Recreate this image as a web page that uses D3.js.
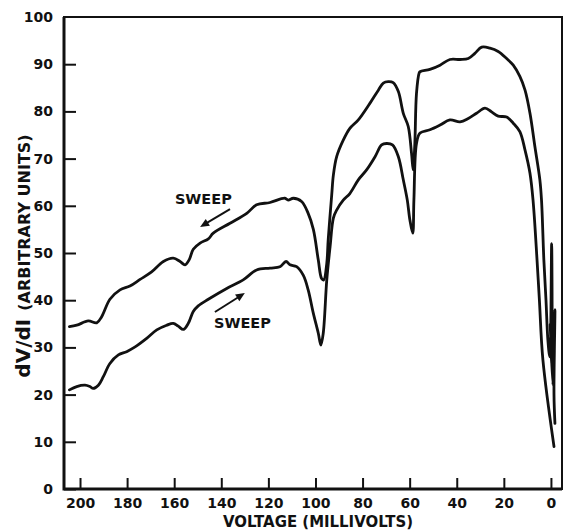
<!DOCTYPE html>
<html lang="en">
<head>
<meta charset="UTF-8">
<title>dV/dI vs voltage</title>
<script src="https://d3js.org/d3.v7.min.js"></script>
<style>
  body { margin: 0; background: #fff; }
  text { font-family: "DejaVu Sans", sans-serif; font-weight: bold; fill: #111; }
</style>
</head>
<body>
<script>
// voltage (mV) and dV/dI readings, upper trace (sweep down)
var upperV = [204.5, 201.4, 196.5, 192.9, 190.8, 187.3, 183.0, 178.8, 174.5, 169.6, 164.6, 160.4, 157.5, 155.4, 153.6, 151.9, 149.0, 145.5, 143.4, 136.3, 129.2, 125.0, 119.3, 113.0, 111.6, 109.4, 105.9, 103.1, 100.9, 98.8, 97.4, 96.5, 95.2, 94.6, 93.1, 92.4, 91.0, 88.2, 85.4, 81.8, 76.9, 73.3, 71.2, 69.1, 67.0, 64.8, 62.7, 60.6, 59.2, 58.5, 57.8, 57.1, 56.0, 55.6, 51.4, 47.1, 42.9, 38.6, 35.1, 32.3, 29.4, 25.9, 22.4, 18.8, 16.0, 13.2, 11.0, 8.9, 6.8, 4.7, 4.0, 3.0, 2.1, 1.3, 0.5, -0.3, -0.4, 0.3, -0.8, -1.7, -1.3, -1.7];
var upperY = [34.4, 34.7, 35.6, 35.2, 36.5, 40.2, 42.2, 43.0, 44.4, 46.0, 48.2, 48.9, 48.2, 47.5, 48.6, 50.8, 52.1, 53.0, 54.2, 56.3, 58.4, 60.2, 60.7, 61.6, 61.2, 61.6, 60.9, 58.4, 55.0, 48.5, 44.6, 44.3, 47.8, 52.8, 62.3, 66.5, 70.4, 73.9, 76.4, 78.2, 81.7, 84.5, 86.0, 86.3, 86.1, 84.2, 79.6, 76.8, 71.1, 67.6, 73.2, 83.8, 88.1, 88.4, 88.9, 89.8, 91.0, 91.0, 91.2, 92.3, 93.6, 93.4, 92.7, 91.2, 89.8, 87.4, 84.5, 79.6, 72.5, 65.5, 61.2, 48.5, 40.0, 31.6, 28.0, 52.0, 26.0, 35.0, 22.0, 38.0, 20.0, 13.9];

// lower trace (sweep up)
var lowerV = [204.5, 201.4, 197.9, 195.8, 194.4, 192.2, 190.1, 187.3, 183.7, 180.2, 176.6, 171.7, 167.4, 163.2, 160.4, 158.3, 156.1, 154.0, 151.9, 149.8, 145.5, 137.7, 130.7, 125.0, 119.3, 115.1, 112.5, 110.8, 108.0, 105.2, 103.1, 100.9, 98.8, 97.7, 96.7, 95.2, 93.8, 92.4, 91.0, 88.2, 85.4, 81.8, 78.3, 74.7, 71.9, 69.8, 67.3, 64.8, 62.7, 61.0, 59.9, 58.7, 58.2, 57.1, 55.6, 51.4, 47.1, 42.9, 38.6, 35.1, 31.6, 28.0, 25.2, 22.4, 18.8, 16.0, 13.2, 11.0, 8.9, 7.6, 5.9, 4.9, 3.4, -1.3];
var lowerY = [21.0, 21.7, 22.0, 21.7, 21.3, 22.0, 23.8, 26.6, 28.4, 29.1, 30.1, 31.9, 33.7, 34.7, 35.1, 34.5, 33.8, 35.1, 37.6, 38.8, 40.2, 42.5, 44.3, 46.4, 46.8, 47.1, 48.2, 47.5, 47.1, 45.3, 42.2, 37.2, 33.0, 30.5, 33.0, 44.3, 51.3, 57.4, 59.1, 61.2, 62.6, 65.5, 67.6, 70.4, 72.9, 73.2, 72.9, 70.4, 65.5, 61.2, 57.0, 54.2, 61.2, 73.2, 75.4, 76.1, 77.1, 78.2, 77.8, 78.5, 79.6, 80.7, 79.9, 79.0, 78.8, 77.5, 75.7, 71.8, 66.9, 61.2, 48.5, 40.0, 27.3, 9.0];

var xTicks = [200, 180, 160, 140, 120, 100, 80, 60, 40, 20, 0];
var yTicks = [0, 10, 20, 30, 40, 50, 60, 70, 80, 90, 100];

var width = 564, height = 531;
var plotLeft = 64, plotRight = 562, plotTop = 17, plotBottom = 489;

var svg = d3.select("body").append("svg")
    .attr("width", width)
    .attr("height", height);

// x runs backwards: 200 mV on the left, 0 on the right
var x = d3.scaleLinear().domain([206.8, -4.7]).range([plotLeft, plotRight]);
var y = d3.scaleLinear().domain([0, 100]).range([plotBottom, plotTop]);

// frame
svg.append("rect")
    .attr("x", plotLeft).attr("y", plotTop)
    .attr("width", plotRight - plotLeft).attr("height", plotBottom - plotTop)
    .attr("fill", "none").attr("stroke", "#111").attr("stroke-width", 2);
svg.append("path")
    .attr("d", "M" + plotLeft + "," + plotTop + "V" + plotBottom + "H" + plotRight)
    .attr("fill", "none").attr("stroke", "#111").attr("stroke-width", 3);

// axes, ticks point inward
var yAxis = svg.append("g")
    .attr("transform", "translate(" + plotLeft + ",0)")
    .call(d3.axisLeft(y).tickValues(yTicks).tickSize(-12).tickSizeOuter(0).tickPadding(11));
var xAxis = svg.append("g")
    .attr("transform", "translate(0," + plotBottom + ")")
    .call(d3.axisBottom(x).tickValues(xTicks).tickSize(-11).tickSizeOuter(0).tickPadding(9));

[yAxis, xAxis].forEach(function (g) {
    g.select(".domain").remove();
    g.selectAll("line").attr("stroke", "#111").attr("stroke-width", 2);
    g.selectAll("text").style("font-size", "14px").style("font-family", "'DejaVu Sans', sans-serif")
        .style("font-weight", "bold").attr("fill", "#111");
});
// the 100 tick sits on the top border, no tick mark there
yAxis.selectAll(".tick").filter(function (d) { return d === 100; }).select("line").remove();

// curves
var line = d3.line()
    .x(function (d) { return x(d[0]); })
    .y(function (d) { return y(d[1]); })
    .curve(d3.curveCatmullRom.alpha(0.5));

var upper = upperV.map(function (v, i) { return [v, upperY[i]]; });
var lower = lowerV.map(function (v, i) { return [v, lowerY[i]]; });

[upper, lower].forEach(function (s) {
    svg.append("path")
        .datum(s)
        .attr("d", line)
        .attr("fill", "none")
        .attr("stroke", "#111")
        .attr("stroke-width", 2.8)
        .attr("stroke-linejoin", "round")
        .attr("stroke-linecap", "round");
});

// sweep annotations
function arrow(x1, y1, x2, y2) {
    var px1 = x(x1), py1 = y(y1), px2 = x(x2), py2 = y(y2);
    var a = Math.atan2(py2 - py1, px2 - px1);
    var len = 9, w = 4;
    svg.append("line")
        .attr("x1", px1).attr("y1", py1)
        .attr("x2", px2 - Math.cos(a) * 4).attr("y2", py2 - Math.sin(a) * 4)
        .attr("stroke", "#111").attr("stroke-width", 2);
    var bx = px2 - Math.cos(a) * len, by = py2 - Math.sin(a) * len;
    svg.append("polygon")
        .attr("points", [
            [px2, py2],
            [bx + Math.sin(a) * w, by - Math.cos(a) * w],
            [bx - Math.sin(a) * w, by + Math.cos(a) * w]
        ].map(function (p) { return p.join(","); }).join(" "))
        .attr("fill", "#111");
}

svg.append("text").attr("x", x(159.7)).attr("y", y(60.3))
    .style("font-size", "14.5px").text("SWEEP");
arrow(136.3, 59.3, 149.0, 55.5);

svg.append("text").attr("x", x(143.1)).attr("y", y(34.1))
    .style("font-size", "14.5px").text("SWEEP");
arrow(142.7, 37.5, 130.0, 41.5);

// axis titles
svg.append("text")
    .attr("x", 318).attr("y", 527)
    .attr("text-anchor", "middle")
    .attr("textLength", 190).attr("lengthAdjust", "spacingAndGlyphs")
    .style("font-size", "16px")
    .text("VOLTAGE (MILLIVOLTS)");

var yt = svg.append("text")
    .attr("transform", "translate(30,256) rotate(-90)")
    .attr("text-anchor", "middle");
yt.append("tspan").style("font-size", "20px").text("dV/dI");
yt.append("tspan").attr("dx", 8).style("font-size", "16px").text("(ARBITRARY UNITS)");
</script>
</body>
</html>
